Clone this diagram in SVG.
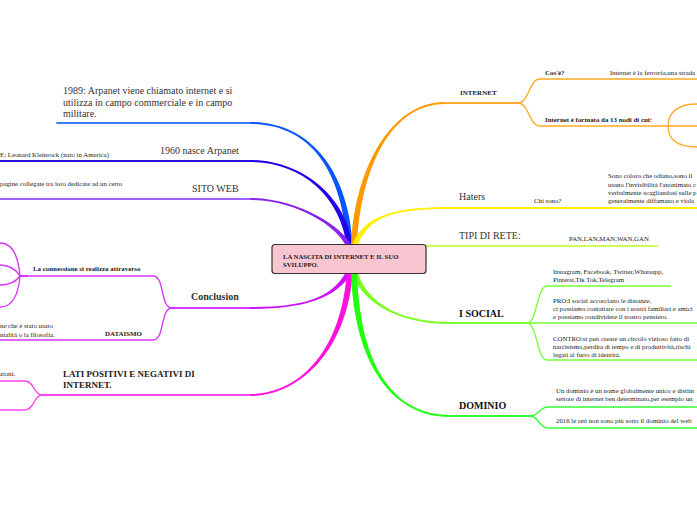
<svg xmlns="http://www.w3.org/2000/svg" width="697" height="520" viewBox="0 0 697 520">
<style>
text{font-family:"Liberation Serif","DejaVu Serif",serif;fill:#222}
.big{font-size:10px;fill:#333}
.bold{font-weight:bold}
.sm{font-size:6.8px}
.smb{font-size:6.9px;font-weight:bold}
.h{fill:none;stroke-width:1.8;stroke-linecap:round}
.s{fill:none;stroke-width:1.3}
</style>
<rect width="697" height="520" fill="#fff"/>
<g id="connectors">
  <path d="M353,248 C349,170 310,122 250,122 L250,124 C310,124 343,170 347,248 Z" fill="#0a55ff"/>
  <path d="M353,248 C347,195 300,160 250,160 L250,162 C300,162 341,195 347,248 Z" fill="#2200ee"/>
  <path d="M353,248 C343,225 295,198 250,198 L250,200 C295,200 337,225 347,248 Z" fill="#8a22ee"/>
  <path d="M351,248 C354,170 390,102 445,102 L445,104 C390,104 360,170 357,248 Z" fill="#ff9900"/>
  <path d="M351,248 C362,215 395,207 450,207 L450,209 C395,209 368,215 357,248 Z" fill="#ffee00"/>
  <path d="M353,270 C338,300 300,309 250,309 L250,307 C300,307 332,300 347,270 Z" fill="#cc11ff"/>
  <path d="M353,270 C348,350 300,396 250,396 L250,394 C300,394 342,350 347,270 Z" fill="#ff11dd"/>
  <path d="M351,270 C359,300 395,324 450,324 L450,322 C395,322 365,300 357,270 Z" fill="#77ff22"/>
  <path d="M351,270 C353,360 390,417 450,417 L450,415 C390,415 359,360 357,270 Z" fill="#22ff11"/>
  <path class="h" d="M250,123 L57,123" stroke="#3f7bff"/>
  <path class="h" d="M250,161 L0,161" stroke="#2a10dd"/>
  <path class="h" d="M250,199 L0,199" stroke="#a060ff"/>
  <path class="h" d="M250,308 L172,308" stroke="#d633ff"/>
  <path class="s" d="M172,308 C160,308 165,276 153,276 L20,276" stroke="#d633ff"/>
  <path class="s" d="M172,308 C160,308 165,340 153,340 L0,340" stroke="#d633ff"/>
  <path d="M20,276 L28,276" stroke="#d633ff" stroke-width="2" fill="none"/>
  <path class="s" d="M20,276 C18,252 10,243 0,243" stroke="#d633ff"/>
  <path class="s" d="M20,276 C15,268 8,265 0,265" stroke="#d633ff"/>
  <path class="s" d="M20,276 C15,283 8,285 0,285" stroke="#d633ff"/>
  <path class="s" d="M20,276 C18,300 10,307 0,307" stroke="#d633ff"/>
  <path class="h" d="M250,395 L42,395" stroke="#ff44ee"/>
  <path class="s" d="M42,395 C34,395 34,381 25,381 L0,381" stroke="#ff44ee"/>
  <path class="s" d="M42,395 C34,395 34,410 25,410 L0,410" stroke="#ff44ee"/>
  <path class="h" d="M445,103 L518,103" stroke="#ffaa33"/>
  <path class="s" d="M518,103 C529,103 529,79 540,79 L697,79" stroke="#ffaa22"/>
  <path class="s" d="M518,103 C529,103 529,126 540,126 L697,126" stroke="#ffaa22"/>
  <path class="s" d="M668,126 C668,111 680,104 697,104" stroke="#ffaa22"/>
  <path class="s" d="M668,126 C668,141 680,147 697,147" stroke="#ffaa22"/>
  <path class="h" d="M450,208 L697,208" stroke="#ffee00"/>
  <path class="h" d="M424,246 L657,246" stroke="#ccff55"/>
  <path class="h" d="M450,323 L527,323" stroke="#77ff33"/>
  <path class="s" d="M527,323 C537,323 537,286 547,286 L671,286" stroke="#77ff33"/>
  <path class="s" d="M527,323 L697,323" stroke="#77ff33"/>
  <path class="s" d="M527,323 C537,323 537,360 547,360 L697,360" stroke="#77ff33"/>
  <path class="h" d="M450,416 L530,416" stroke="#33ff33"/>
  <path class="s" d="M530,416 C539,416 539,407 548,407 L697,407" stroke="#33ff33"/>
  <path class="s" d="M530,416 C539,416 539,428 548,428 L697,428" stroke="#33ff33"/>
</g>
<g id="center">
  <rect x="272" y="244.5" width="154" height="29" rx="3" fill="#f9c5d0" stroke="#333" stroke-width="1.2"/>
  <text x="283" y="258.5" style="font-size:6.7px;font-weight:bold">LA NASCITA DI INTERNET E IL SUO</text>
  <text x="283" y="266.5" style="font-size:6.7px;font-weight:bold">SVILUPPO.</text>
</g>
<g id="n1989">
  <text class="big" x="63" y="94">1989: Arpanet viene chiamato internet e si</text>
  <text class="big" x="63" y="105.5">utilizza in campo commerciale e in campo</text>
  <text class="big" x="63" y="117">militare.</text>
</g>
<g id="n1960">
  <text class="big" x="160" y="153.5">1960 nasce Arpanet</text>
  <text class="sm" x="0" y="156.5">E: Leonard Kleinrock (nato in America)</text>
</g>
<g id="sito">
  <text class="big" x="192" y="191.5">SITO WEB</text>
  <text class="sm" x="0" y="185.5">pagine collegate tra loro dedicate ad un certo</text>
</g>
<g id="conclusion">
  <text class="big bold" x="191" y="300">Conclusion</text>
  <text class="smb" x="33" y="271">La connessione si realizza attraverso</text>
  <text class="smb" x="105" y="336">DATAISMO</text>
  <text class="sm" x="0" y="328">ne che è stato usato</text>
  <text class="sm" x="0" y="336.5">ntalità o la filosofia.</text>
</g>
<g id="lati">
  <text class="bold" x="63" y="377" style="font-size:9px">LATI POSITIVI E NEGATIVI DI</text>
  <text class="bold" x="63" y="388" style="font-size:9px">INTERNET.</text>
  <text class="sm" x="0" y="375.5">zioni.</text>
</g>
<g id="internet">
  <text class="bold" x="460" y="95" style="font-size:7px">INTERNET</text>
  <text class="smb" x="545" y="75">Cos'è?</text>
  <text class="sm" x="610" y="75">Internet è la ferrovia,una strada</text>
  <text class="smb" x="545" y="122">Internet è formato da 13 nodi di cui:</text>
</g>
<g id="haters">
  <text class="big" x="459" y="200">Haters</text>
  <text class="sm" x="534" y="203">Chi sono?</text>
  <text class="sm" x="608" y="178">Sono coloro che odiano,sono il</text>
  <text class="sm" x="608" y="186.5">usano l'invisibilità l'anonimato c</text>
  <text class="sm" x="608" y="194.5">verbalmente scagliandosi sulle p</text>
  <text class="sm" x="608" y="202.5">generalmente diffamano e viola</text>
</g>
<g id="tipi">
  <text class="big" x="459" y="239">TIPI DI RETE:</text>
  <text class="sm" x="569" y="241">PAN,LAN,MAN,WAN,GAN</text>
</g>
<g id="social">
  <text class="big bold" x="459" y="317" style="fill:#111">I SOCIAL</text>
  <text class="sm" x="553" y="274">Instagram, Facebook, Twitter,Whatsapp,</text>
  <text class="sm" x="553" y="281.5">Pinterst,Tik Tok,Telegram</text>
  <text class="sm" x="553" y="303">PRO:I social accorciano le distanze,</text>
  <text class="sm" x="553" y="311">ci possiamo contattare con i nostri familiari e amici</text>
  <text class="sm" x="553" y="318.5">e possiamo condividere il nostro pensiero.</text>
  <text class="sm" x="553" y="341">CONTRO:si può creare un circolo vizioso fatto di</text>
  <text class="sm" x="553" y="349">narcisismo,perdita di tempo e di produttività,rischi</text>
  <text class="sm" x="553" y="356.5">legati al furto di identità.</text>
</g>
<g id="dominio">
  <text class="big bold" x="459" y="409" style="fill:#111">DOMINIO</text>
  <text class="sm" x="556" y="393">Un dominio è un nome globalmente unico e distint</text>
  <text class="sm" x="556" y="400.5">settore di internet ben determinato,per esempio un</text>
  <text class="sm" x="556" y="423">2016 le reti non sono più sotto il dominio del web</text>
</g>
</svg>
